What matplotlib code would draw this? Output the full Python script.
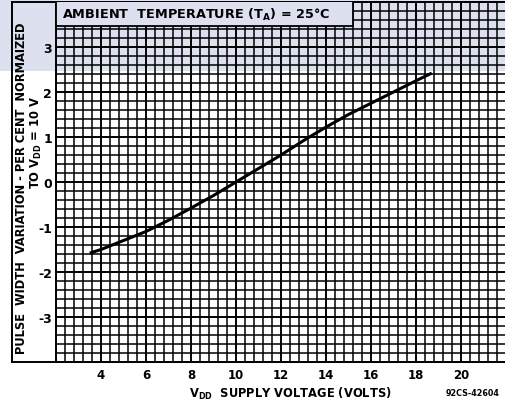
import matplotlib
matplotlib.use("Agg")
import matplotlib.pyplot as plt
import numpy as np
from matplotlib.patches import Rectangle
from matplotlib.lines import Line2D

plt.rcParams['font.family'] = ['DejaVu Sans']
plt.rcParams['mathtext.fontset'] = 'dejavusans'
plt.rcParams['mathtext.default'] = 'bf'

# Data
vdd = [3.5, 4, 5, 6, 7, 8, 9, 10, 11, 12, 13, 14, 15, 16, 17, 18, 18.7]
pulse_var = [-1.58, -1.5, -1.3, -1.1, -0.85, -0.58, -0.3, 0.0, 0.3, 0.6, 0.92, 1.22, 1.5, 1.75, 2.0, 2.25, 2.42]
x_ticks = [4, 6, 8, 10, 12, 14, 16, 18, 20]
y_ticks = [-3, -2, -1, 0, 1, 2, 3]
title_text = "AMBIENT  TEMPERATURE (T$_A$) = 25°C"
xlabel_text = "V$_{DD}$  SUPPLY VOLTAGE (VOLTS)"
ylabel_line1 = "PULSE  WIDTH  VARIATION - PER CENT  NORMAIZED"
ylabel_line2 = "TO V$_{DD}$ = 10 V"
code_text = "92CS-42604"

W, H = 506, 402
fig = plt.figure(figsize=(W / 100, H / 100), dpi=100)
fig.patch.set_facecolor('white')

band = '#dde1ef'
# light watermark band at top
fig.patches.append(Rectangle((0, 1 - 72 / H), 1, 72 / H, transform=fig.transFigure,
                             facecolor=band, edgecolor='none', zorder=0))

ax_l, ax_r, ax_t, ax_b = 56, 506, 3, 363
ax = fig.add_axes([ax_l / W, 1 - ax_b / H, (ax_r - ax_l) / W, (ax_b - ax_t) / H])
ax.set_zorder(2)
ax.set_facecolor('none')
ax.set_xlim(2, 22)
ax.set_ylim(-4, 4)

# grid
for xv in np.arange(2, 22.01, 0.4):
    major = abs(xv / 2 - round(xv / 2)) < 1e-6
    ax.axvline(xv, color='black', lw=1.4 if major else 1.1, zorder=1)
for yv in np.arange(-4, 4.01, 0.2):
    major = abs(yv - round(yv)) < 1e-6
    ax.axhline(yv, color='black', lw=1.4 if major else 1.1, zorder=1)

# title box
ax.add_patch(Rectangle((2, 3.47), 13.2, 0.6, facecolor=band, edgecolor='black',
                       lw=1.3, zorder=3, clip_on=True))
ax.text(2.25, 3.74, title_text, fontsize=9.3, fontweight='bold', va='center',
        ha='left', zorder=4)

ax.plot(vdd, pulse_var, color='black', lw=2.2, zorder=5, solid_capstyle='butt')

ax.set_xticks(x_ticks)
ax.set_yticks(y_ticks)
ax.set_xticklabels([str(v) for v in x_ticks], fontsize=8.5, fontweight='bold')
ax.set_yticklabels([str(v) for v in y_ticks], fontsize=9, fontweight='bold')
ax.tick_params(length=0, pad=4)
ax.tick_params(axis='y', pad=3)
for s in ax.spines.values():
    s.set_linewidth(1.4)

# outer frame
fig.add_artist(Line2D([12 / W, 12 / W], [1 - 3 / H, 1 - 363 / H], transform=fig.transFigure,
                      color='black', lw=1.4))
fig.add_artist(Line2D([12 / W, 1], [1 - 363 / H, 1 - 363 / H], transform=fig.transFigure,
                      color='black', lw=1.4))
fig.add_artist(Line2D([12 / W, 1], [1 - 3 / H, 1 - 3 / H], transform=fig.transFigure,
                      color='black', lw=1.4))

fig.text(22 / W, 1 - 188 / H, ylabel_line1, rotation=90, fontsize=8.3, fontweight='bold',
         ha='center', va='center')
fig.text(36 / W, 1 - 143 / H, ylabel_line2, rotation=90, fontsize=8.3, fontweight='bold',
         ha='center', va='center')
fig.text(290 / W, 1 - 394 / H, xlabel_text, fontsize=8.3, fontweight='bold',
         ha='center', va='center')
fig.text(473 / W, 1 - 394 / H, code_text, fontsize=5.8, fontweight='bold',
         ha='center', va='center')

fig.savefig('out.png', dpi=100)
